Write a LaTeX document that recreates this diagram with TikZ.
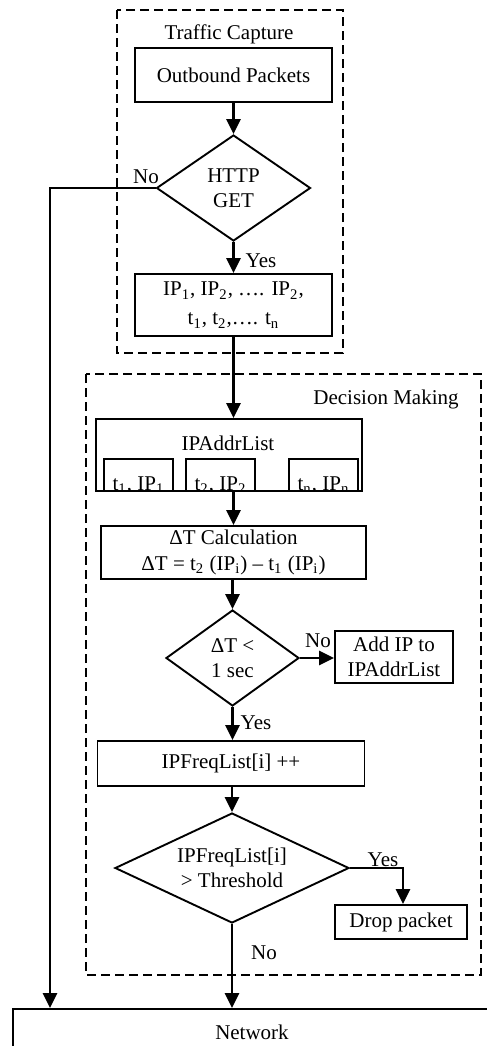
\documentclass[tikz,border=0pt]{standalone}
\usepackage{fontspec}
\setmainfont{Liberation Serif}
\usetikzlibrary{shapes.geometric,arrows.meta}

\begin{document}
\begin{tikzpicture}[x=0.5pt,y=-0.5pt,
  font=\fontsize{10.5}{12.5}\selectfont,
  box/.style={draw,line width=0.95pt,inner sep=0pt,align=center},
  dec/.style={draw,diamond,line width=0.95pt,inner sep=0pt},
  dectext/.style={align=center,inner sep=0pt},
  arr/.style={line width=1.35pt,-{Triangle[length=7.5pt,width=7pt]}},
  group/.style={draw,line width=0.65pt,dash pattern=on 4.5pt off 2.5pt},
  lbl/.style={inner sep=0pt}]
\clip (0,0) rectangle (487,1046);

% group frames
\draw[group] (117,10) rectangle (343,353);
\node[lbl] (tcap) at (229,34) {Traffic Capture};
\draw[group] (86,374) rectangle (481,975);
\node[lbl] (dmak) at (386,399) {Decision Making};

% traffic capture stage
\node[box,minimum width=98.5pt,minimum height=27pt] (outb) at (233.5,75) {Outbound Packets};
\node[dec,minimum width=77pt,minimum height=53pt,
      label={[dectext]center:HTTP\\GET}] (http) at (233.5,188) {};
\node[box,minimum width=98.5pt,minimum height=31pt] (iplist) at (233.5,305)
  {IP\textsubscript{1}, IP\textsubscript{2}, …. IP\textsubscript{2},\\[2pt]
   t\textsubscript{1}, t\textsubscript{2},…. t\textsubscript{n}};

% decision making stage
\node[box,minimum width=133pt,minimum height=36pt] (addr) at (229,455) {};
\node[lbl] (addrtitle) at (228,443) {IPAddrList};
\node[box,minimum width=34.5pt,minimum height=16pt] (s1) at (138.5,475) {};
\node[box,minimum width=34.5pt,minimum height=16pt] (s2) at (220.5,475) {};
\node[box,minimum width=34.5pt,minimum height=16pt] (sn) at (323.5,475) {};
\begin{scope}
  \clip (104,459) rectangle (358,491);
  \node[lbl,anchor=base] (s1t) at (138.5,490) {t\textsubscript{1}, IP\textsubscript{1}};
  \node[lbl,anchor=base] (s2t) at (220.5,490) {t\textsubscript{2}, IP\textsubscript{2}};
  \node[lbl,anchor=base] (snt) at (323.5,490) {t\textsubscript{n}, IP\textsubscript{n}};
\end{scope}

\node[box,minimum width=132.5pt,minimum height=26.5pt] (dt) at (233.5,552.5)
  {ΔT Calculation\\[0.5pt]
   ΔT = t\textsubscript{2} (IP\textsubscript{i}) – t\textsubscript{1} (IP\textsubscript{i})};
\node[dec,minimum width=66.5pt,minimum height=48pt,
      label={[dectext]center:ΔT <\\1 sec}] (d2) at (232.5,658) {};
\node[box,minimum width=59pt,minimum height=26pt] (addip) at (394,657) {Add IP to\\IPAddrList};
\node[box,minimum width=133.5pt,minimum height=22.5pt] (freq) at (231,763.5) {IPFreqList[i] ++};
\node[dec,minimum width=117pt,minimum height=55pt,
      label={[dectext]center:IPFreqList[i]\\> Threshold}] (d3) at (232,868) {};
\node[box,minimum width=66pt,minimum height=17pt] (drop) at (401,922) {Drop packet};

% network
\node[box,minimum width=250pt,minimum height=40pt,anchor=north west] (net) at (12,1008) {};
\node[lbl] (nettext) at (252,1032) {Network};

% connectors
\coordinate (noturn) at (50,188);
\coordinate (yesturn) at (403,868);
\draw[arr] (outb.south) -- (http.north);
\draw[arr] (http.west) -- (noturn) -- (noturn |- net.north);
\draw[arr] (http.south) -- (iplist.north);
\draw[arr] (iplist.south) -- (iplist.south |- addr.north);
\draw[arr] (dt.north |- addr.south) -- (dt.north);
\draw[arr] (d2.north |- dt.south) -- (d2.north);
\draw[arr] (d2.east) -- (d2.east -| addip.west);
\draw[arr] (d2.south) -- (d2.south |- freq.north);
\draw[arr] (d3.north |- freq.south) -- (d3.north);
\draw[arr] (d3.east) -- (yesturn) -- (yesturn |- drop.north);
\draw[arr] (d3.south) -- (d3.south |- net.north);

% branch labels
\node[lbl] (no1) at (146,177) {No};
\node[lbl] (yes1) at (261,261) {Yes};
\node[lbl] (no2) at (318,641) {No};
\node[lbl] (yes2) at (256,723) {Yes};
\node[lbl] (yes3) at (383,860) {Yes};
\node[lbl] (no3) at (264,953) {No};
\end{tikzpicture}
\end{document}
